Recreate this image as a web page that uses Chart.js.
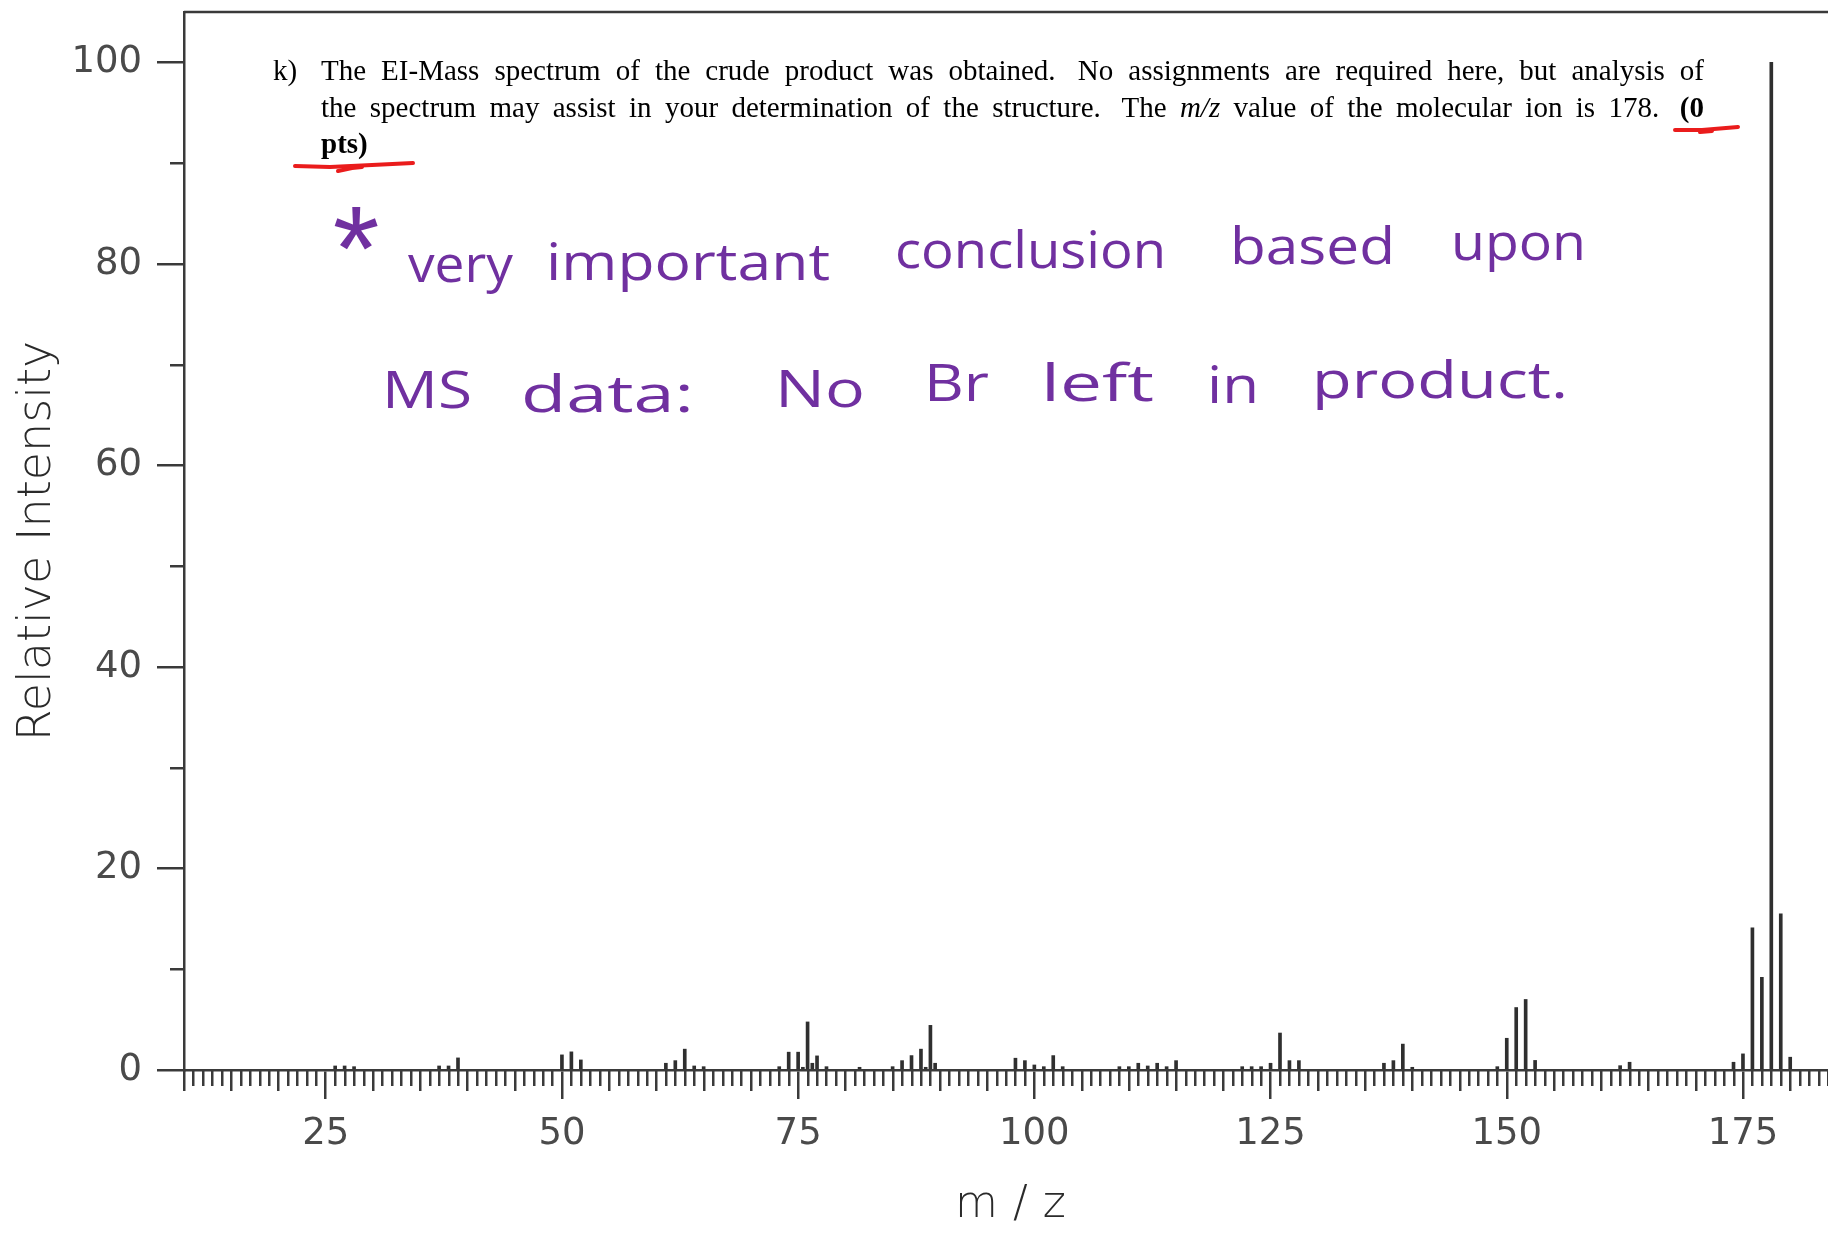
<!DOCTYPE html>
<html>
<head>
<meta charset="utf-8">
<title>EI mass spectrum</title>
<script src="https://cdn.jsdelivr.net/npm/chart.js@4.4.1/dist/chart.umd.min.js"></script>
<style>
  html, body { margin: 0; padding: 0; background: #ffffff; }
  #wrap { width: 1828px; height: 1233px; }
</style>
</head>
<body>
<div id="wrap"><canvas id="ms" width="1828" height="1233"></canvas></div>
<script>
// EI mass spectrum: m/z positions and relative intensities (%)
const mzValues = [
  26, 27, 28, 37, 38, 39, 50, 51, 52, 61, 62, 63, 64, 65,
  73, 74, 75, 75.5, 76, 76.5, 77, 78, 81.5,
  85, 86, 87, 88, 88.5, 89, 89.5,
  98, 99, 100, 101, 102, 103,
  109, 110, 111, 112, 113, 114, 115,
  122, 123, 124, 125, 126, 127, 128,
  137, 138, 139, 140,
  149, 150, 151, 152, 153,
  162, 163,
  174, 175, 176, 177, 178, 179, 180
];
const relIntensity = [
  0.4, 0.4, 0.33, 0.4, 0.4, 1.2, 1.5, 1.8, 1.0, 0.67, 0.93, 2.07, 0.4, 0.33,
  0.33, 1.77, 1.77, 0.27, 4.77, 0.67, 1.4, 0.33, 0.27,
  0.33, 0.93, 1.43, 2.07, 0.27, 4.43, 0.67,
  1.17, 0.93, 0.5, 0.33, 1.43, 0.33,
  0.33, 0.33, 0.67, 0.4, 0.67, 0.33, 0.93,
  0.33, 0.33, 0.33, 0.67, 3.67, 0.93, 0.93,
  0.67, 0.93, 2.57, 0.27,
  0.33, 3.15, 6.2, 7.0, 0.95,
  0.43, 0.77,
  0.77, 1.6, 14.1, 9.2, 100, 15.5, 1.27
];

// labelled axis ticks
const xTickLabels = [25, 50, 75, 100, 125, 150, 175];
const yTickLabels = [0, 20, 40, 60, 80, 100];

const AXIS = '#3a3a3a';
const TICK_LABEL = '#4a4a4a';
const TITLE = '#2a2a2a';
const BAR = '#2f2f2f';
const INK = '#7030A0';
const RED = '#ea1c1c';

// spaced-out lettering for the m/z axis title
function spaceTitle(scale, spacing, shift) {
  if (scale._spacedTitle) return;
  const orig = scale.drawTitle.bind(scale);
  scale.drawTitle = function () {
    const c = this.ctx;
    c.save();
    c.letterSpacing = spacing + 'px';
    c.translate(shift, 0);
    orig();
    c.restore();
  };
  scale._spacedTitle = true;
}

// minor tick marks on both axes, plus the frame line along the top
const axisDetails = {
  id: 'axisDetails',
  beforeDraw(chart) {
    spaceTitle(chart.scales.x, 15, 12);
  },
  afterDraw(chart) {
    const { ctx, chartArea: a } = chart;
    const x = chart.scales.x, y = chart.scales.y;
    ctx.save();
    ctx.strokeStyle = AXIS;
    ctx.lineWidth = 2.5;
    ctx.beginPath();
    for (let v = Math.ceil(x.min); v <= x.max; v++) {
      if (v % 25 === 0) continue;
      const len = v % 5 === 0 ? 21 : 16;
      const px = Math.round(x.getPixelForValue(v)) + 0.25;
      ctx.moveTo(px, a.bottom);
      ctx.lineTo(px, a.bottom + len);
    }
    for (let v = 10; v < y.max; v += 20) {
      const py = Math.round(y.getPixelForValue(v)) + 0.25;
      ctx.moveTo(a.left, py);
      ctx.lineTo(a.left - 14, py);
    }
    ctx.moveTo(a.left, a.top);
    ctx.lineTo(a.right, a.top);
    ctx.stroke();
    ctx.restore();
  }
};

// printed exam question above the spectrum
const SERIF = '"Liberation Serif", "Times New Roman", serif';
const question = {
  marker: { text: 'k)', x: 273, base: 80 },
  left: 321,
  right: 1704,
  lines: [
    { base: 80, justify: true, runs: [
      { text: 'The EI-Mass spectrum of the crude product was obtained.  No assignments are required here, but analysis of', style: '' }
    ]},
    { base: 116.5, justify: true, runs: [
      { text: 'the spectrum may assist in your determination of the structure.  The ', style: '' },
      { text: 'm/z', style: 'italic ' },
      { text: ' value of the molecular ion is 178.  ', style: '' },
      { text: '(0', style: 'bold ' }
    ]},
    { base: 153, justify: false, runs: [
      { text: 'pts)', style: 'bold ' }
    ]}
  ],
  size: 29
};

function drawRunLine(ctx, line, x0, x1, size) {
  const words = [];
  line.runs.forEach(r => {
    r.text.split(/(\s+)/).forEach(tok => {
      if (!tok) return;
      if (/^\s+$/.test(tok)) {
        if (words.length) words[words.length - 1].spaces += tok.length;
      } else {
        words.push({ text: tok, font: r.style + size + 'px ' + SERIF, spaces: 0 });
      }
    });
  });
  ctx.font = size + 'px ' + SERIF;
  const spaceW = ctx.measureText(' ').width;
  let natural = 0;
  words.forEach((w, i) => {
    ctx.font = w.font;
    w.width = ctx.measureText(w.text).width;
    natural += w.width;
    if (i < words.length - 1) natural += w.spaces * spaceW;
  });
  const gaps = words.length - 1;
  const stretch = line.justify && gaps > 0 ? (x1 - x0 - natural) / gaps : 0;
  let cx = x0;
  words.forEach(w => {
    ctx.font = w.font;
    ctx.fillText(w.text, cx, line.base);
    cx += w.width + w.spaces * spaceW + stretch;
  });
}

const printedText = {
  id: 'printedText',
  afterDraw(chart) {
    const ctx = chart.ctx;
    ctx.save();
    ctx.fillStyle = '#000';
    ctx.textBaseline = 'alphabetic';
    ctx.textAlign = 'left';
    ctx.font = question.size + 'px ' + SERIF;
    ctx.fillText(question.marker.text, question.marker.x, question.marker.base);
    question.lines.forEach(l => drawRunLine(ctx, l, question.left, question.right, question.size));

    // red pen underlines below the points value
    ctx.strokeStyle = RED;
    ctx.lineWidth = 4;
    ctx.lineCap = 'round';
    ctx.lineJoin = 'round';
    const strokes = [
      [[295, 166], [330, 167], [372, 165], [413, 163]],
      [[338, 171], [352, 168], [362, 167]],
      [[1675, 130], [1702, 130], [1738, 127]],
      [[1700, 132], [1712, 131]]
    ];
    strokes.forEach(s => {
      ctx.beginPath();
      s.forEach((p, i) => (i ? ctx.lineTo(p[0], p[1]) : ctx.moveTo(p[0], p[1])));
      ctx.stroke();
    });
    ctx.restore();
  }
};

// purple handwritten note
const HAND = '"Open Sans", "DejaVu Sans", sans-serif';
const noteWords = [
  { text: 'very', x: 408, w: 105, base: 282 },
  { text: 'important', x: 546, w: 284, base: 280 },
  { text: 'conclusion', x: 895, w: 271, base: 268 },
  { text: 'based', x: 1230, w: 165, base: 264 },
  { text: 'upon', x: 1451, w: 135, base: 260 },
  { text: 'MS', x: 382, w: 90, base: 408 },
  { text: 'data:', x: 521, w: 173, base: 412 },
  { text: 'No', x: 775, w: 90, base: 407 },
  { text: 'Br', x: 924, w: 65, base: 401 },
  { text: 'left', x: 1041, w: 113, base: 401 },
  { text: 'in', x: 1207, w: 52, base: 403 },
  { text: 'product.', x: 1312, w: 256, base: 398 }
];

const inkNote = {
  id: 'inkNote',
  afterDraw(chart) {
    const ctx = chart.ctx;
    ctx.save();
    ctx.fillStyle = INK;
    ctx.textBaseline = 'alphabetic';
    ctx.textAlign = 'left';
    ctx.font = '52px ' + HAND;
    noteWords.forEach(n => {
      const natural = ctx.measureText(n.text).width;
      ctx.save();
      ctx.translate(n.x, n.base);
      ctx.scale(n.w / natural, 1);
      ctx.fillText(n.text, 0, 0);
      ctx.restore();
    });
    // star marking the note
    ctx.font = '120px "Liberation Sans", sans-serif';
    const m = ctx.measureText('*');
    ctx.textAlign = 'center';
    ctx.fillText('*', 356, 228 + m.actualBoundingBoxAscent - (m.actualBoundingBoxAscent + m.actualBoundingBoxDescent) / 2);
    ctx.restore();
  }
};

const axisFont = (size, weight) => ({ family: '"DejaVu Sans", Verdana, sans-serif', size: size, weight: weight, lineHeight: 1.2 });

new Chart(document.getElementById('ms'), {
  type: 'bar',
  data: {
    datasets: [{
      label: 'Relative Intensity',
      data: mzValues.map((m, i) => ({ x: m, y: relIntensity[i] })),
      backgroundColor: BAR,
      borderWidth: 0,
      barThickness: 3
    }]
  },
  options: {
    responsive: false,
    animation: false,
    devicePixelRatio: 1,
    layout: { padding: { top: 12, left: 0, right: 0, bottom: 0 } },
    plugins: { legend: { display: false }, tooltip: { enabled: false } },
    scales: {
      x: {
        type: 'linear',
        min: 10,
        max: 184,
        offset: false,
        afterFit(s) { s.height = 163; s.paddingLeft = 0; s.paddingRight = 0; },
        afterBuildTicks(s) { s.ticks = xTickLabels.map(v => ({ value: v })); },
        grid: { drawOnChartArea: false, drawTicks: true, tickLength: 29, color: AXIS, lineWidth: 2.5, offset: false },
        border: { display: true, color: AXIS, width: 2.5 },
        ticks: { autoSkip: false, maxRotation: 0, padding: 13, color: TICK_LABEL, font: axisFont(37, '400') },
        title: { display: true, text: 'm/z', color: TITLE, font: axisFont(44, '200'), padding: { top: 0, bottom: 1 } }
      },
      y: {
        type: 'linear',
        min: 0,
        max: 105,
        afterFit(s) { s.width = 184; s.paddingTop = 0; s.paddingBottom = 0; },
        afterBuildTicks(s) { s.ticks = yTickLabels.map(v => ({ value: v })); },
        grid: { drawOnChartArea: false, drawTicks: true, tickLength: 27, color: AXIS, lineWidth: 2.5 },
        border: { display: true, color: AXIS, width: 2.5 },
        ticks: { padding: 15, color: TICK_LABEL, font: axisFont(37, '400') },
        title: { display: true, text: 'Relative Intensity', color: TITLE, font: axisFont(46, '200'), padding: { top: 10, bottom: 0 } }
      }
    }
  },
  plugins: [axisDetails, printedText, inkNote]
});
</script>
</body>
</html>
